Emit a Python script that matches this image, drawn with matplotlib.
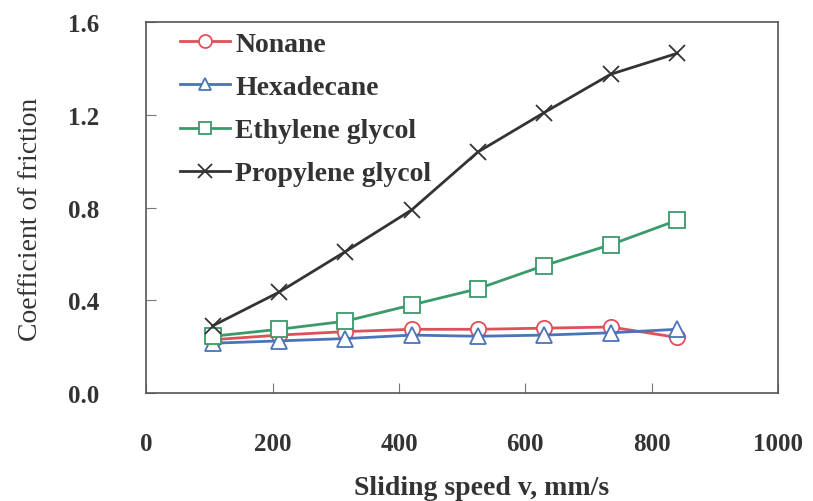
import matplotlib.pyplot as plt

speed = [105, 210, 315, 420, 525, 630, 735, 840]
nonane = [0.23, 0.25, 0.265, 0.275, 0.275, 0.28, 0.285, 0.24]
hexadecane = [0.215, 0.225, 0.235, 0.25, 0.245, 0.25, 0.26, 0.275]
ethylene_glycol = [0.245, 0.275, 0.31, 0.38, 0.45, 0.55, 0.64, 0.745]
propylene_glycol = [0.29, 0.435, 0.61, 0.79, 1.04, 1.21, 1.375, 1.465]

plt.rcParams['font.family'] = ['Liberation Serif', 'DejaVu Serif']

fig = plt.figure(figsize=(8.13, 5.02), dpi=100)
ax = fig.add_axes([0.18, 0.215, 0.777, 0.739])

ax.plot(speed, nonane, color='#e0505a', lw=2, marker='o', ms=11,
        mfc='white', mec='#e0505a', mew=1.3, label='Nonane')
ax.plot(speed, hexadecane, color='#4a74b8', lw=2, marker='^', ms=11,
        mfc='white', mec='#4a74b8', mew=1.3, label='Hexadecane')
ax.plot(speed, ethylene_glycol, color='#3a9a6a', lw=2, marker='s', ms=11,
        mfc='white', mec='#3a9a6a', mew=1.3, label='Ethylene glycol')
ax.plot(speed, propylene_glycol, color='#333333', lw=2, marker='x', ms=12,
        mec='#333333', mew=1.3, label='Propylene glycol')

ax.set_xlim(0, 1000)
ax.set_ylim(0, 1.6)
ax.set_xticks([0, 200, 400, 600, 800, 1000])
ax.set_yticks([0.0, 0.4, 0.8, 1.2, 1.6])
ax.set_yticklabels(['0.0', '0.4', '0.8', '1.2', '1.6'])

for s in ax.spines.values():
    s.set_color('#555555')
    s.set_linewidth(1.2)

ax.tick_params(axis='x', direction='in', length=7, color='#777777', pad=28,
               labelsize=18, labelcolor='#333333')
ax.tick_params(axis='y', direction='in', length=7, color='#777777', pad=34,
               labelsize=18, labelcolor='#333333')
for lbl in ax.get_xticklabels() + ax.get_yticklabels():
    lbl.set_fontweight('bold')

ax.set_xlabel('Sliding speed v, mm/s', fontsize=20, fontweight='bold',
              color='#333333')
ax.xaxis.set_label_coords(0.53, -0.22)
ax.set_ylabel('Coefficient of friction', fontsize=20, color='#333333')
ax.yaxis.set_label_coords(-0.164, 0.47)

leg = ax.legend(loc='upper left', bbox_to_anchor=(0.035, 1.005), frameon=False,
                prop={'size': 20, 'weight': 'bold'}, handlelength=1.8,
                handletextpad=0.2, labelspacing=0.64, borderaxespad=0.0,
                markerscale=0.85)
for t in leg.get_texts():
    t.set_color('#333333')

fig.savefig('out.png', dpi=100)
